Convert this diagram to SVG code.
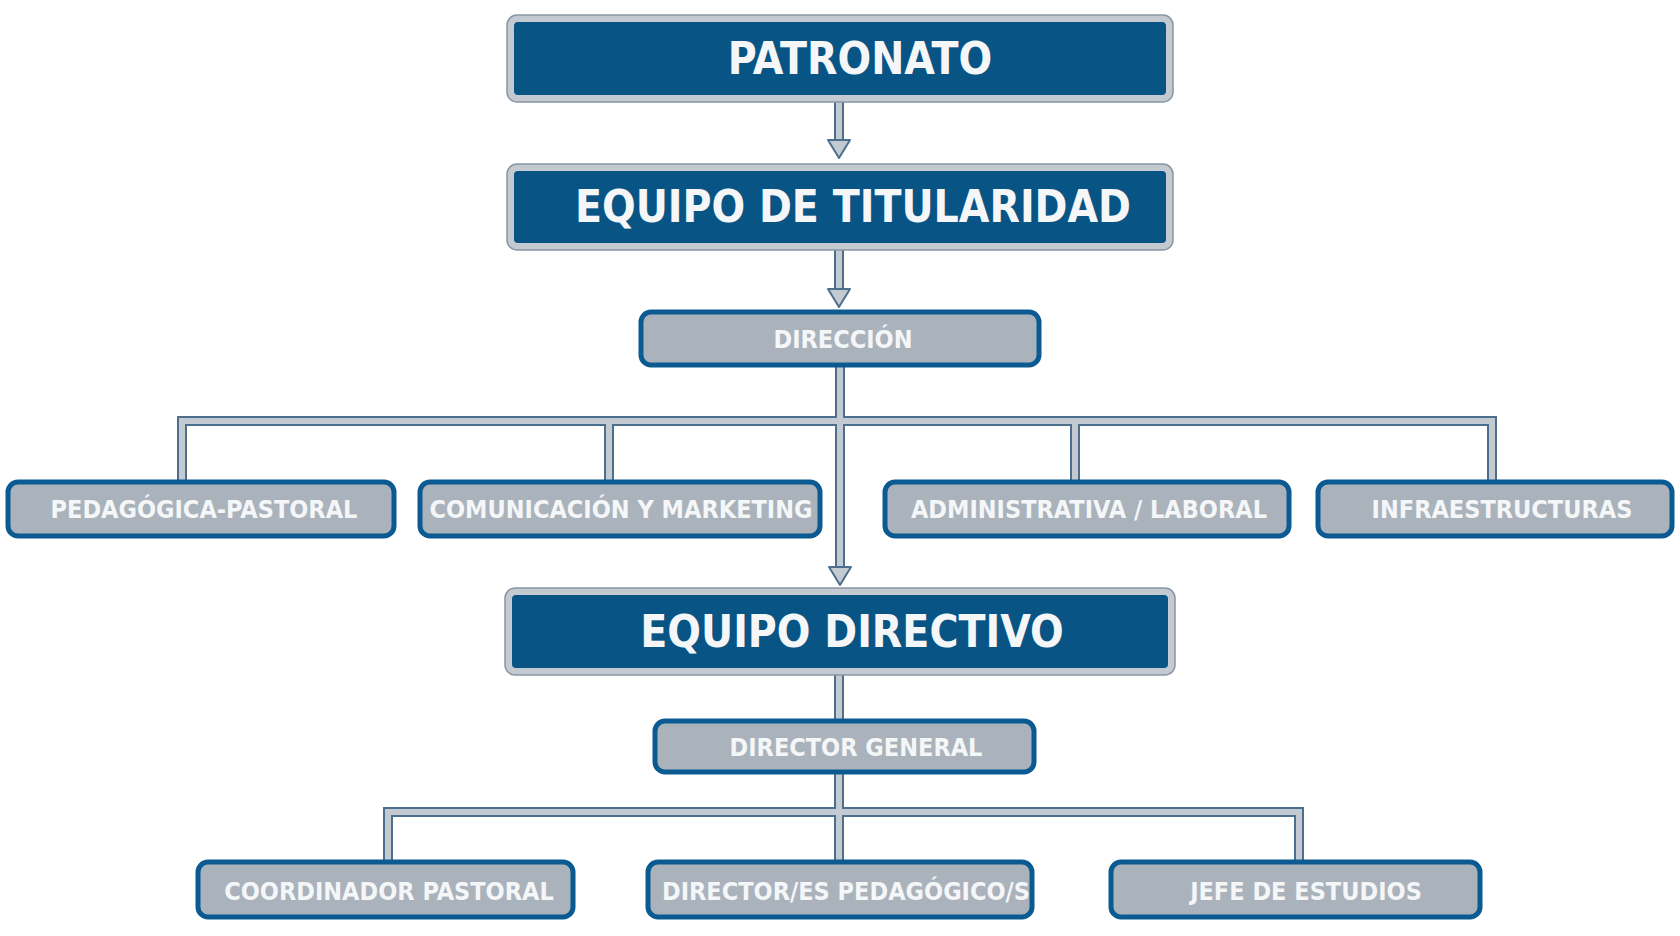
<svg xmlns="http://www.w3.org/2000/svg" width="1680" height="936" viewBox="0 0 1680 936">
<style>
.big rect.o{fill:#c3cad1;stroke:#8896a4;stroke-width:1.5}
.big rect.i{fill:#075485}
.big text{fill:#f4f6f8;font-family:"DejaVu Sans Condensed","DejaVu Sans",sans-serif;font-weight:bold;font-size:44px;text-anchor:middle}
.sm rect{fill:#aab3bc;stroke:#0b5a92;stroke-width:5}
.sm text{fill:#f4f6f8;font-family:"DejaVu Sans Condensed","DejaVu Sans",sans-serif;font-weight:bold;font-size:25px;text-anchor:middle}
.c1{fill:none;stroke:#4d6f8e;stroke-width:10}
.c2{fill:none;stroke:#c3cad1;stroke-width:6}
.ah{fill:#c3cad1;stroke:#4d6f8e;stroke-width:2;stroke-linejoin:round}
</style>
<rect width="1680" height="936" fill="#fff"/>
<g id="connectors">
<path class="c1" d="M839 102V150M839 250V297M840 365V567M840 421H182V482M840 421H1492V482M609 421V482M1075 421V482M839 675V721M839 772V862M839 812H388V862M839 812H1299V862"/>
<path class="c2" d="M839 102V150M839 250V297M840 365V567M840 421H182V482M840 421H1492V482M609 421V482M1075 421V482M839 675V721M839 772V862M839 812H388V862M839 812H1299V862"/>
<path class="ah" d="M828 140H850L839 158Z"/>
<path class="ah" d="M828 289H850L839 307Z"/>
<path class="ah" d="M829 567H851L840 585Z"/>
</g>
<g id="patronato" class="big"><rect class="o" x="507" y="15" width="666" height="87" rx="10"/><rect class="i" x="514" y="22" width="652" height="73" rx="4"/><text x="860" y="74">PATRONATO</text></g>
<g id="titularidad" class="big"><rect class="o" x="507" y="164" width="666" height="86" rx="10"/><rect class="i" x="514" y="171" width="652" height="72" rx="4"/><text x="853" y="222">EQUIPO DE TITULARIDAD</text></g>
<g id="direccion" class="sm"><rect x="641" y="312" width="398" height="53" rx="10"/><text x="843" y="348" font-size="30">DIRECCIÓN</text></g>
<g id="pedagogica" class="sm"><rect x="8" y="482" width="386" height="54" rx="10"/><text x="204" y="518">PEDAGÓGICA-PASTORAL</text></g>
<g id="comunicacion" class="sm"><rect x="420" y="482" width="400" height="54" rx="10"/><text x="621" y="518">COMUNICACIÓN Y MARKETING</text></g>
<g id="administrativa" class="sm"><rect x="885" y="482" width="404" height="54" rx="10"/><text x="1089" y="518">ADMINISTRATIVA / LABORAL</text></g>
<g id="infraestructuras" class="sm"><rect x="1318" y="482" width="354" height="54" rx="10"/><text x="1502" y="518">INFRAESTRUCTURAS</text></g>
<g id="directivo" class="big"><rect class="o" x="505" y="588" width="670" height="87" rx="10"/><rect class="i" x="512" y="595" width="656" height="73" rx="4"/><text x="852" y="647">EQUIPO DIRECTIVO</text></g>
<g id="director-general" class="sm"><rect x="655" y="721" width="379" height="51" rx="10"/><text x="856" y="756">DIRECTOR GENERAL</text></g>
<g id="coordinador" class="sm"><rect x="198" y="862" width="375" height="55" rx="10"/><text x="389" y="900">COORDINADOR PASTORAL</text></g>
<g id="directores" class="sm"><rect x="648" y="862" width="384" height="55" rx="10"/><text x="846" y="900">DIRECTOR/ES PEDAGÓGICO/S</text></g>
<g id="jefe" class="sm"><rect x="1111" y="862" width="369" height="55" rx="10"/><text x="1306" y="900">JEFE DE ESTUDIOS</text></g>
</svg>
